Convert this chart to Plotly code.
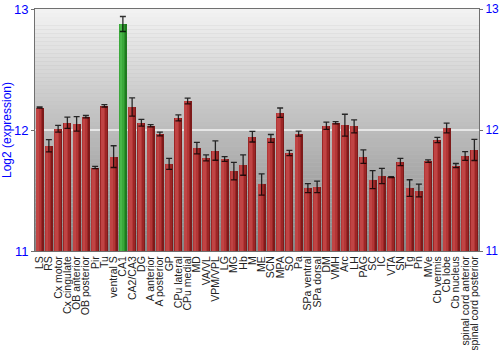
import plotly.graph_objects as go

regions = ["LS", "RS", "Cx motor", "Cx cingulate", "OB anterior", "OB posterior", "Pir", "Tu",
           "ventral S", "CA1", "CA2/CA3", "DG", "A anterior", "A posterior", "GP", "CPu lateral",
           "CPu medial", "MD", "VA/VL", "VPM/VPL", "LG", "MG", "Hb", "M", "ME", "SCN", "MPA", "SO",
           "Pa", "SPa ventral", "SPa dorsal", "DM", "VMH", "Arc", "LH", "PAG", "SC", "IC", "VTA",
           "SN", "Tg", "Pn", "MVe", "Cb vermis", "Cb lobe", "Cb nucleus", "spinal cord anterior",
           "spinal cord posterior"]
expression = [12.185, 11.87, 12.01, 12.06, 12.05, 12.11, 11.69, 12.20,
              11.78, 12.876, 12.19, 12.06, 12.035, 11.967, 11.72, 12.10,
              12.24, 11.85, 11.77, 11.83, 11.76, 11.66, 11.71, 11.945, 11.55, 11.93, 12.143, 11.81,
              11.97, 11.52, 11.53, 12.035, 12.06, 12.04, 12.03, 11.78, 11.59, 11.62, 11.61,
              11.735, 11.52, 11.50, 11.743, 11.917, 12.017, 11.706, 11.785,
              11.835]
errors = [0.005, 0.05, 0.028, 0.047, 0.06, 0.01, 0.01, 0.01,
          0.09, 0.062, 0.076, 0.028, 0.01, 0.015, 0.045, 0.025,
          0.024, 0.047, 0.025, 0.08, 0.02, 0.073, 0.084, 0.044, 0.088, 0.033, 0.039, 0.022,
          0.02, 0.037, 0.048, 0.03, 0.01, 0.09, 0.054, 0.055, 0.075, 0.063, 0.004,
          0.03, 0.069, 0.052, 0.01, 0.022, 0.04, 0.017, 0.036,
          0.087]
highlight = "CA1"

x = list(range(len(regions)))

red_layers = ["#7e1a1a", "#9c2626", "#b33636", "#c04444"]
green_layers = ["#1f7a1f", "#2c932c", "#3aa83a", "#48b648"]
# (offset, width) for the cylinder-like shading layers
layer_geom = [(-0.43, 0.86), (-0.43, 0.70), (-0.40, 0.50), (-0.34, 0.28)]

fig = go.Figure()
for li, (off, w) in enumerate(layer_geom):
    colors = [green_layers[li] if r == highlight else red_layers[li] for r in regions]
    fig.add_trace(go.Bar(
        x=x, y=expression, offset=off, width=w,
        marker=dict(color=colors, line=dict(width=0)),
        hoverinfo="skip", showlegend=False,
    ))

fig.add_trace(go.Scatter(
    x=x, y=expression, mode="markers",
    marker=dict(size=1, color="rgba(0,0,0,0)"),
    error_y=dict(type="data", array=errors, visible=True,
                 color="rgba(0,0,0,0.8)", thickness=1.3, width=3),
    showlegend=False, hoverinfo="skip",
))
fig.add_trace(go.Scatter(x=[0], y=[12], yaxis="y2", mode="markers",
                         marker=dict(size=0.1, color="rgba(0,0,0,0)"),
                         showlegend=False, hoverinfo="skip"))

# background gradient
n = 60
shapes = []
top, bottom = 242, 134
for i in range(n):
    f = i / (n - 1)
    v = int(round(top + (bottom - top) * f))
    shapes.append(dict(type="rect", xref="paper", yref="paper", x0=0, x1=1,
                       y0=1 - (i + 1) / n, y1=1 - i / n, layer="below",
                       fillcolor=f"rgb({v},{v},{v})", line=dict(width=0)))
shapes.append(dict(type="line", xref="paper", yref="y", x0=0, x1=1, y0=12, y1=12,
                   layer="below", line=dict(color="#f4f4f4", width=1.5)))

fig.update_layout(
    width=500, height=350,
    margin=dict(l=35, r=21, t=9, b=99),
    paper_bgcolor="white", plot_bgcolor="#c0c0c0",
    barmode="overlay", bargap=0,
    shapes=shapes,
    font=dict(family="Liberation Sans, Arial, sans-serif"),
    xaxis=dict(tickmode="array", tickvals=x, ticktext=regions, tickangle=-90,
               tickfont=dict(size=10.5, color="#222222"), range=[-0.5, len(regions) - 0.5],
               showline=True, mirror=True, linecolor="#707070", linewidth=1,
               ticks="", showgrid=False, automargin=False),
    yaxis=dict(range=[11, 13], tickvals=[11, 12, 13], tickfont=dict(size=13, color="blue"),
               title=dict(text="Log2 (expression)", font=dict(size=12, color="blue"), standoff=2),
               showgrid=False, zeroline=False, showline=True, linecolor="#707070",
               ticks="outside", ticklen=3, tickcolor="#707070", automargin=False),
    yaxis2=dict(range=[11, 13], tickvals=[11, 12, 13], overlaying="y", side="right",
                tickfont=dict(size=12, color="blue"), showgrid=False, zeroline=False,
                showline=True, linecolor="#707070", ticks="outside", ticklen=3,
                tickcolor="#707070", automargin=False),
)

fig.write_html("out.html")
